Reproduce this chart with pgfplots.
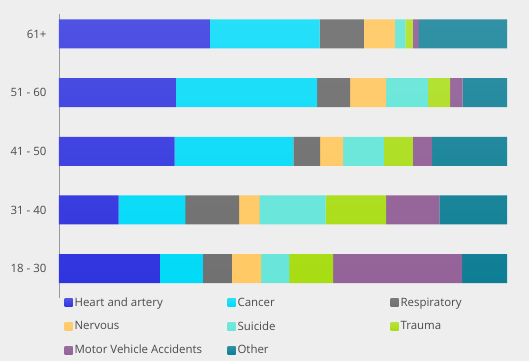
\documentclass[border=0pt]{standalone}
\usepackage{pgfplots}
\pgfplotsset{compat=1.18}
\usepackage{fontspec}
\setmainfont{Open Sans}
\definecolor{bgc}{HTML}{EEEEEF}
\definecolor{txt}{HTML}{4A4A4A}
\definecolor{cHeart}{HTML}{3034DE}
\definecolor{cCancer}{HTML}{00DAF8}
\definecolor{cResp}{HTML}{717171}
\definecolor{cNerv}{HTML}{FFC966}
\definecolor{cSui}{HTML}{68E6D9}
\definecolor{cTrauma}{HTML}{A8DC12}
\definecolor{cMVA}{HTML}{946399}
\definecolor{cOther}{HTML}{0E7E95}
\newcommand{\lb}[1]{\makebox[151bp][l]{#1}}
\begin{document}
\begin{tikzpicture}
\fill[bgc] (0,0) rectangle (529bp,361bp);
\begin{axis}[
  at={(59bp,63bp)}, anchor=south west,
  scale only axis, width=448bp, height=284bp,
  xbar stacked, bar width=29bp,
  xmin=0, xmax=100, ymin=-0.5, ymax=4.34,
  axis x line=none,
  axis y line*=left,
  y axis line style={-, draw=gray!80, line width=0.9bp},
  ytick={0,1,2,3,4},
  yticklabels={18 - 30, 31 - 40, 41 - 50, 51 - 60, 61+},
  major tick length=0pt,
  yticklabel style={font=\fontsize{11.5}{13}\selectfont, text=txt, xshift=-9bp},
  legend columns=3,
  legend style={draw=none, fill=none, at={(0.012,0.009)}, anchor=north west,
    font=\fontsize{11.5}{13}\selectfont, text=txt, row sep=9.5bp, inner sep=0pt},
  legend cell align=left,
  legend image code/.code={\path[#1] (0bp,-4bp) rectangle (8bp,4bp);},
]
\addplot[draw=none, top color=cHeart!85!white, bottom color=cHeart] coordinates {(22.5,0) (13.3,1) (25.8,2) (26.1,3) (33.7,4)};
\addplot[draw=none, top color=cCancer!85!white, bottom color=cCancer] coordinates {(9.6,0) (14.9,1) (26.5,2) (31.5,3) (24.5,4)};
\addplot[draw=none, top color=cResp!94!white, bottom color=cResp] coordinates {(6.5,0) (12.0,1) (6.0,2) (7.4,3) (9.9,4)};
\addplot[draw=none, top color=cNerv!94!white, bottom color=cNerv] coordinates {(6.5,0) (4.6,1) (5.1,2) (8.0,3) (6.9,4)};
\addplot[draw=none, top color=cSui!94!white, bottom color=cSui] coordinates {(6.3,0) (14.7,1) (9.1,2) (9.4,3) (2.3,4)};
\addplot[draw=none, top color=cTrauma!82!white, bottom color=cTrauma] coordinates {(9.8,0) (13.5,1) (6.5,2) (4.9,3) (1.7,4)};
\addplot[draw=none, top color=cMVA!94!white, bottom color=cMVA] coordinates {(28.8,0) (11.9,1) (4.3,2) (2.8,3) (1.3,4)};
\addplot[draw=none, top color=cOther!85!white, bottom color=cOther] coordinates {(10.0,0) (15.1,1) (16.7,2) (9.9,3) (19.7,4)};
\addlegendentry{\lb{Heart and artery}}
\addlegendentry{\lb{Cancer}}
\addlegendentry{\lb{Respiratory}}
\addlegendentry{\lb{Nervous}}
\addlegendentry{\lb{Suicide}}
\addlegendentry{\lb{Trauma}}
\addlegendentry{\lb{Motor Vehicle Accidents}}
\addlegendentry{\lb{Other}}
\end{axis}
\pgfresetboundingbox
\useasboundingbox (0,0) rectangle (529bp,361bp);
\end{tikzpicture}
\end{document}
